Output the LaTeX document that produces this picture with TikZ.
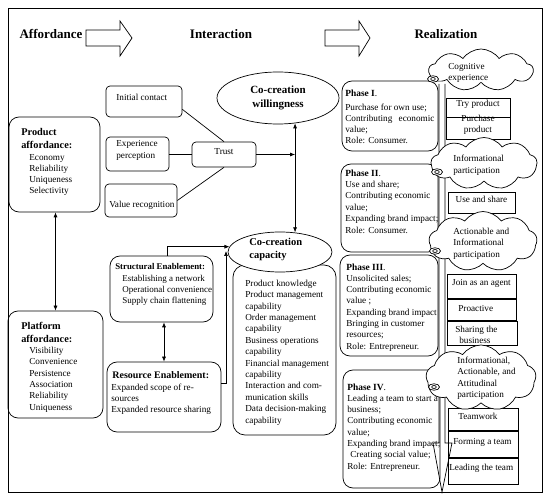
\documentclass[tikz,border=0pt]{standalone}
\usepackage{fontspec}
\setmainfont{Liberation Serif}
\usetikzlibrary{shapes.geometric,shapes.symbols,fit,calc,arrows.meta}
\begin{document}
\begin{tikzpicture}[x=1pt,y=-1pt,line width=0.7pt,
  every node/.style={inner sep=0pt},
  fs/.style={font=\fontsize{9.2}{11.3}\selectfont},
  txt/.style={anchor=north west,align=left,font=\fontsize{9.2}{#1}\selectfont},
  txt/.default=11.3,
  lbl/.style={anchor=base west,fs},
  box/.style={draw,rounded corners=#1,inner sep=0pt},
  box/.default=10pt,
  sbox/.style={draw,inner sep=0pt,fs},
  head/.style={font=\bfseries\fontsize{13}{15}\selectfont},
  arr/.style={-{Latex[length=5pt,width=4pt]}},
  darr/.style={{Latex[length=5pt,width=4pt]}-{Latex[length=5pt,width=4pt]}},
  cloudn/.style={cloud,draw,fill=white,cloud puffs=9,cloud puff arc=110,cloud ignores aspect,inner sep=0pt},
  tail/.style={ellipse,draw,fill=white,minimum width=11pt,minimum height=6.5pt},
  taili/.style={ellipse,draw,minimum width=4.5pt,minimum height=3pt}]
\useasboundingbox (0,0) rectangle (550,500);
% frame
\draw (8,8) rectangle (542,492);
% header
\node[head] (haff) at (51,34) {Affordance};
\node[head] (hint) at (221,34) {Interaction};
\node[head] (hrea) at (446,34) {Realization};
\draw (86,30) -- (120,30) -- (120,21) -- (132,38) -- (120,56) -- (120,46) -- (86,46) -- cycle;
\draw (325,30) -- (359,30) -- (359,21) -- (370,38) -- (359,56) -- (359,46) -- (325,46) -- cycle;
% affordance column
\node[box,fit={(9,117) (100,212)}] (prod) {};
\node[txt,font=\bfseries\fontsize{10.3}{13}\selectfont] (prodh) at (21,128.4) {Product\\affordance:};
\node[txt=11.1] (prodi) at (29,153.9) {Economy\\Reliability\\Uniqueness\\Selectivity};
\node[box,fit={(8,311) (103,418)}] (plat) {};
\node[txt,font=\bfseries\fontsize{10.3}{13}\selectfont] (plath) at (21,322.1) {Platform\\affordance:};
\node[txt=11.4] (plati) at (29,346.6) {Visibility\\Convenience\\Persistence\\Association\\Reliability\\Uniqueness};
\draw[darr] (prod.south -| plat.north) -- (plat.north);
% interaction column
\node[box=4pt,fit={(106,86) (182,117)}] (ic) {};
\node[lbl] (ict) at (116,100.7) {Initial contact};
\node[box=4pt,fit={(106,137) (169,171)}] (ep) {};
\node[txt=12] (ept) at (116,139.9) {Experience\\perception};
\node[box=4pt,fit={(105,184) (177,217)}] (vr) {};
\node[lbl] (vrt) at (109,207.3) {Value recognition};
\node[box=4pt,fit={(192,142) (256,167)},fs] (trust) {Trust};
\draw ($(ic.south east)+(0,-8)$) -- (trust.north);
\draw (ep.east) -- (ep.east -| trust.west);
\draw (vr.east) -- (trust.south);
\node[draw,ellipse,minimum width=122pt,minimum height=52pt,align=center,font=\bfseries\fontsize{11}{14}\selectfont] (will) at (278,98) {Co-creation\\willingness};
\node[box=12pt,fit={(233,265) (336,435)}] (capbox) {};
\node[draw,ellipse,fill=white,minimum width=104pt,minimum height=40pt] (cap) at (280,252) {};
\node[txt,font=\bfseries\fontsize{10.5}{13}\selectfont] (capt) at (249,238.1) {Co-creation\\capacity};
\node[txt=11.4] (capi) at (245,279.6) {Product knowledge\\Product management\\capability\\Order management\\capability\\Business operations\\capability\\Financial management\\capability\\Interaction and com-\\munication skills\\Data decision-making\\capability};
\draw[darr] (will.-56) -- (will.-56 |- cap.55);
\draw[arr] (trust.east) -- (trust.east -| will.-56);
\node[box,fit={(110,256) (213,322)}] (struct) {};
\node[txt,font=\bfseries\fontsize{8.8}{11}\selectfont] (structh) at (115,262.8) {Structural Enablement:};
\node[txt=11.2,font=\fontsize{9}{11.2}\selectfont] (structi) at (122,274.9) {Establishing a network\\Operational convenience\\Supply chain flattening};
\node[box,fit={(107,362) (221,432)}] (res) {};
\node[txt,font=\bfseries\fontsize{10}{12}\selectfont] (resh) at (112,370.9) {Resource Enablement:};
\node[txt=11] (resi) at (111,383.3) {Expanded scope of re-\\sources\\Expanded resource sharing};
\draw[darr] (struct.south -| res.north) -- (res.north);
\draw[arr] ($(struct.north)+(5.5,0)$) |- (cap.174);
\coordinate (capin) at (226,251);
\draw[arr] ($(res.east)+(0,-14)$) -| (capin);
% realization column
\node[box,fit={(342,81) (438,151)}] (ph1) {};
\node[txt,font=\fontsize{9.4}{11.3}\selectfont] (ph1h) at (345,89.9) {\textbf{Phase I}.};
\node[txt=11] (ph1t) at (345,103.3) {Purchase for own use;\\Contributing\hspace{4pt} economic\\value;\\Role: Consumer.};
\node[box,fit={(341,164) (438,252)}] (ph2) {};
\node[txt,font=\fontsize{9.4}{11.3}\selectfont] (ph2h) at (345,169.9) {\textbf{Phase II}.};
\node[txt=11.5] (ph2t) at (345,180.6) {Use and share;\\Contributing economic\\value;\\Expanding brand impact;\\Role: Consumer.};
\node[box,fit={(340,255) (438,356)}] (ph3) {};
\node[txt,font=\fontsize{9.4}{11.3}\selectfont] (ph3h) at (346,263.6) {\textbf{Phase III}.};
\node[txt=11.3] (ph3t) at (346,274.6) {Unsolicited sales;\\Contributing economic\\value ;\\Expanding brand impact\\Bringing in customer\\resources;\\Role: Entrepreneur.};
\node[box,fit={(343,370) (440,488)}] (ph4) {};
\node[txt,font=\fontsize{9.4}{11.3}\selectfont] (ph4h) at (347,383.6) {\textbf{Phase IV}.};
\node[txt=11.3] (ph4t) at (347,394.6) {Leading a team to start a\\business;\\Contributing economic\\value;\\Expanding brand impact;\\\hspace{3pt}Creating social value;\\Role: Entrepreneur.};
% right boxes
\node[sbox,fit={(446,98) (510,117)}] (try) {Try product};
\node[sbox,fit={(446,117) (510,139)},align=center] (pur) {Purchase\\product};
\node[sbox,fit={(448,192) (515,213)}] (use) {Use and share};
\node[sbox,fit={(447,274) (516,298)}] (join) {Join as an agent};
\node[sbox,fit={(447,299) (516,320)}] (pro) {};
\node[lbl] (prot) at (458,312) {Proactive};
\node[sbox,fit={(447,321) (517,345)}] (shar) {};
\node[txt] (shart) at (455,325.6) {Sharing the\\\hspace{4pt}business};
\node[sbox,fit={(448,408) (518,430)}] (team) {};
\node[lbl] (teamt) at (458,420) {Teamwork};
\node[sbox,fit={(448,431) (518,457)}] (form) {};
\node[lbl] (formt) at (453,445) {Forming a team};
\node[sbox,fit={(448,458) (518,484)}] (lead) {};
\node[lbl] (leadt) at (449,471) {Leading the team};
% long arrow
\draw (439,84) -- (439,443) -- (433,443) -- (442,492) -- (452,443) -- (445,443) -- (445,84);
% clouds
\node[cloudn,minimum width=104pt,minimum height=42pt] (c1) at (481,70) {};
\node[txt=11] (c1t) at (448,62.6) {Cognitive\\experience};
\node[cloudn,minimum width=106pt,minimum height=52pt] (c2) at (484,163.5) {};
\node[txt=11.3] (c2t) at (453,155) {Informational\\participation};
\node[cloudn,minimum width=108pt,minimum height=60pt] (c3) at (483,241.5) {};
\node[txt=11.5] (c3t) at (453,227.6) {Actionable and\\Informational\\participation};
\node[cloudn,minimum width=110pt,minimum height=66pt] (c4) at (481,378) {};
\node[txt=11.3] (c4t) at (457,356.6) {Informational,\\Actionable, and\\Attitudinal\\participation};
% thought tails
\node[tail] (o1) at (433,79) {}; \node[taili] (o1i) at (o1) {};
\node[tail] (o2) at (437,172) {}; \node[taili] (o2i) at (o2) {};
\node[tail] (o3) at (435,251) {}; \node[taili] (o3i) at (o3) {};
\node[tail] (o4) at (434,387) {}; \node[taili] (o4i) at (o4) {};
\end{tikzpicture}
\end{document}
